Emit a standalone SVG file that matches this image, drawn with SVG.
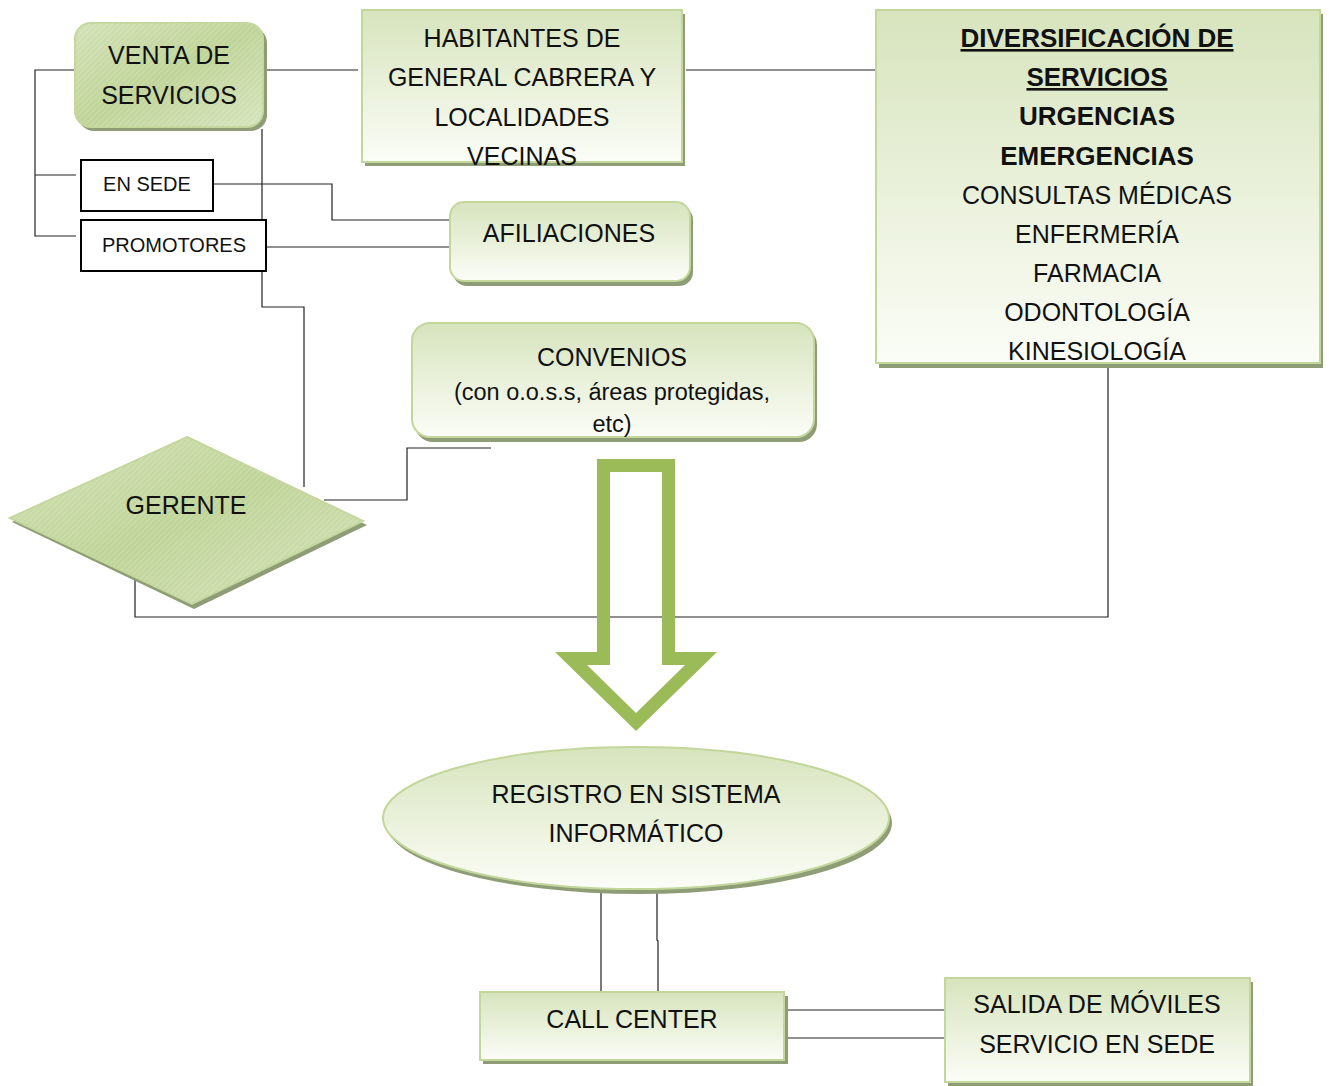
<svg xmlns="http://www.w3.org/2000/svg" width="1329" height="1086" viewBox="0 0 1329 1086">
<defs>
<linearGradient id="lg" x1="0" y1="0" x2="0" y2="1">
<stop offset="0" stop-color="#d7e4bd"/>
<stop offset="1" stop-color="#fbfdf7"/>
</linearGradient>
<linearGradient id="dg" x1="0" y1="0" x2="1" y2="1">
<stop offset="0" stop-color="#d3e2b6"/>
<stop offset="0.5" stop-color="#bfd498"/>
<stop offset="1" stop-color="#d6e4bd"/>
</linearGradient>
<pattern id="hatch" width="4" height="4" patternUnits="userSpaceOnUse" patternTransform="rotate(45)">
<line x1="0" y1="0" x2="0" y2="4" stroke="#ffffff" stroke-width="1" stroke-opacity="0.35"/>
</pattern>
<style>
.t{font-family:"Liberation Sans",Arial,sans-serif;font-size:25px;fill:#111;text-anchor:middle}
.b{font-weight:bold}
.u{text-decoration:underline}
.s{font-size:20px}
.sh{fill:#8f9d76}
.lt{fill:url(#lg);stroke:#c3d69b;stroke-width:2}
.dk{fill:url(#dg);stroke:#c3d69b;stroke-width:2}
.bx{fill:#fff;stroke:#000;stroke-width:2}
.c{fill:none;stroke:#222;stroke-width:1.2}
</style>
</defs>

<g id="connectors">
<polyline class="c" points="75,70 35,70 35,236 76,236"/>
<line class="c" x1="35" y1="175" x2="76" y2="175"/>
<line class="c" x1="266" y1="70" x2="358" y2="70"/>
<line class="c" x1="686" y1="70" x2="876" y2="70"/>
<polyline class="c" points="262,129 262,307 304,307 304,487"/>
<polyline class="c" points="213,184 332,184 332,220 450,220"/>
<line class="c" x1="263" y1="247" x2="450" y2="247"/>
<polyline class="c" points="324,500 407,500 407,448 491,448"/>
<polyline class="c" points="135,580 135,617 1108,617 1108,364"/>
<line class="c" x1="601" y1="891" x2="601" y2="991"/>
<polyline class="c" points="657,891 657,940 658,941 658,991"/>
<line class="c" x1="786" y1="1010" x2="945" y2="1010"/>
<line class="c" x1="786" y1="1038" x2="945" y2="1038"/>
</g>

<g id="venta">
<rect class="sh" x="78" y="27" width="189" height="104" rx="16"/>
<rect class="dk" x="75" y="23" width="188" height="104" rx="16"/>
<rect x="75" y="23" width="188" height="104" rx="16" fill="url(#hatch)"/>
<text class="t" x="169" y="64">VENTA DE</text>
<text class="t" x="169" y="104">SERVICIOS</text>
</g>

<g id="habitantes">
<rect class="sh" x="365" y="14" width="320" height="152"/>
<rect class="lt" x="362" y="10" width="320" height="152"/>
<text class="t" x="522" y="47">HABITANTES DE</text>
<text class="t" x="522" y="86">GENERAL CABRERA Y</text>
<text class="t" x="522" y="126">LOCALIDADES</text>
<text class="t" x="522" y="165">VECINAS</text>
</g>

<g id="diversificacion">
<rect class="sh" x="879" y="14" width="444" height="354"/>
<rect class="lt" x="876" y="10" width="444" height="353"/>
<text class="t b u" x="1097" y="47" style="font-size:26px">DIVERSIFICACIÓN DE</text>
<text class="t b u" x="1097" y="86" style="font-size:26px">SERVICIOS</text>
<text class="t b" x="1097" y="125" style="font-size:26px">URGENCIAS</text>
<text class="t b" x="1097" y="165" style="font-size:26px">EMERGENCIAS</text>
<text class="t" x="1097" y="204">CONSULTAS MÉDICAS</text>
<text class="t" x="1097" y="243">ENFERMERÍA</text>
<text class="t" x="1097" y="282">FARMACIA</text>
<text class="t" x="1097" y="321">ODONTOLOGÍA</text>
<text class="t" x="1097" y="360">KINESIOLOGÍA</text>
</g>

<g id="en-sede">
<rect class="bx" x="81" y="160" width="132" height="51"/>
<text class="t s" x="147" y="191">EN SEDE</text>
</g>

<g id="promotores">
<rect class="bx" x="81" y="220" width="185" height="51"/>
<text class="t s" x="174" y="252">PROMOTORES</text>
</g>

<g id="afiliaciones">
<rect class="sh" x="453" y="206" width="240" height="80" rx="14"/>
<rect class="lt" x="450" y="202" width="240" height="79" rx="14"/>
<text class="t" x="569" y="242">AFILIACIONES</text>
</g>

<g id="convenios">
<rect class="sh" x="415" y="327" width="402" height="115" rx="18"/>
<rect class="lt" x="412" y="323" width="402" height="114" rx="18"/>
<text class="t" x="612" y="366">CONVENIOS</text>
<text class="t" x="612" y="400" style="font-size:23.5px">(con o.o.s.s, áreas protegidas,</text>
<text class="t" x="612" y="432" style="font-size:23.5px">etc)</text>
</g>

<g id="gerente">
<polygon class="sh" points="187,441 367,525 194,609 12,522"/>
<polygon class="dk" points="187,437 363,521 192,604 10,518"/>
<polygon points="187,437 363,521 192,604 10,518" fill="url(#hatch)"/>
<text class="t" x="186" y="514">GERENTE</text>
</g>

<g id="flecha">
<path fill="#9bbb59" fill-rule="evenodd" d="M597,459 L675,459 L675,652 L717,652 L636,731 L555,652 L597,652 Z M610,472 L610,665 L587,665 L636,713 L685,665 L662,665 L662,472 Z"/>
</g>

<g id="registro">
<ellipse class="sh" cx="639" cy="823" rx="253" ry="71"/>
<ellipse class="lt" cx="636" cy="818" rx="253" ry="71"/>
<text class="t" x="636" y="803">REGISTRO EN SISTEMA</text>
<text class="t" x="636" y="842">INFORMÁTICO</text>
</g>

<g id="call-center">
<rect class="sh" x="483" y="996" width="305" height="68"/>
<rect class="lt" x="480" y="992" width="304" height="68"/>
<text class="t" x="632" y="1028">CALL CENTER</text>
</g>

<g id="salida">
<rect class="sh" x="948" y="982" width="305" height="104"/>
<rect class="lt" x="945" y="978" width="305" height="104"/>
<text class="t" x="1097" y="1013">SALIDA DE MÓVILES</text>
<text class="t" x="1097" y="1053">SERVICIO EN SEDE</text>
</g>
</svg>
